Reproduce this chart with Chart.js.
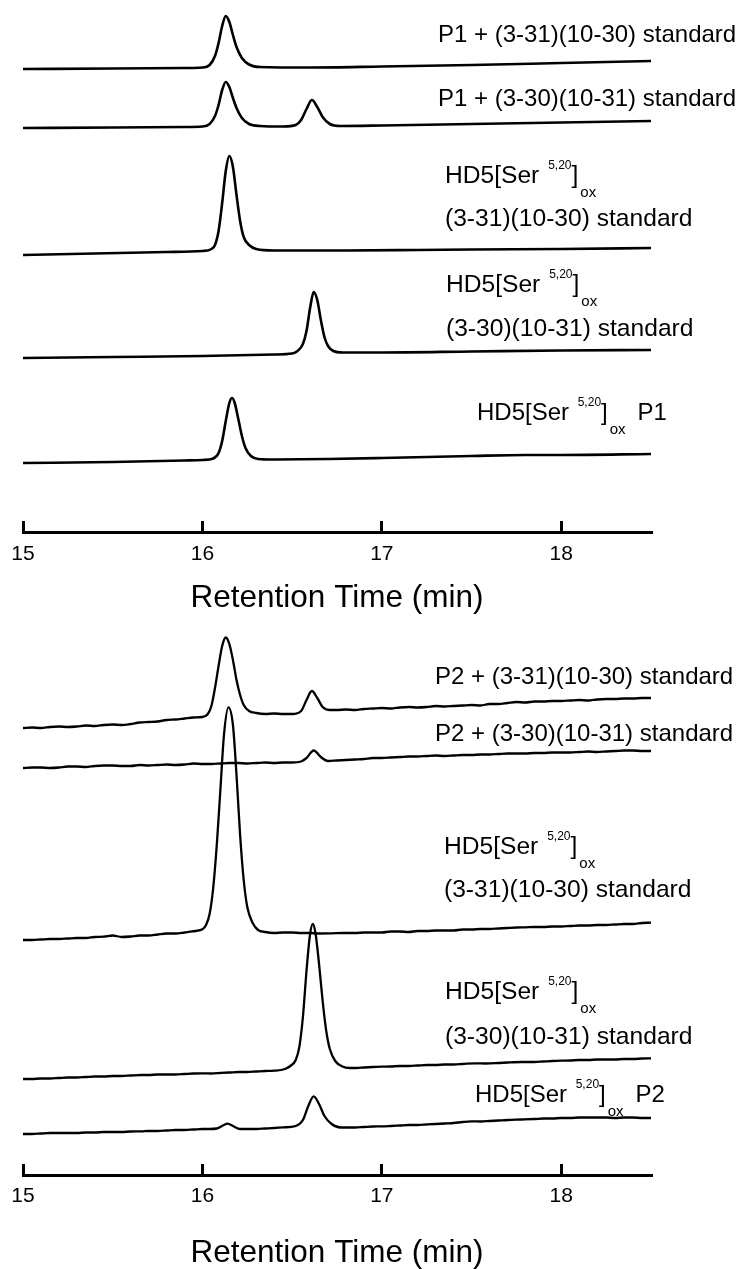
<!DOCTYPE html>
<html>
<head>
<meta charset="utf-8">
<script src="https://cdn.jsdelivr.net/npm/chart.js@4.4.1/dist/chart.umd.min.js"></script>
<style>
html, body { margin: 0; padding: 0; background: #fff; }
#wrap { position: relative; width: 739px; height: 1269px; }
.panel { position: absolute; left: 0; width: 739px; }
#top { top: 0; height: 620px; }
#bottom { top: 620px; height: 649px; }
</style>
</head>
<body>
<div id="wrap">
  <div class="panel" id="top"><canvas id="chartTop"></canvas></div>
  <div class="panel" id="bottom"><canvas id="chartBottom"></canvas></div>
</div>
<script>
// retention time axis
var xMin = 15, xMax = 18.5;
var xTicks = [15, 16, 17, 18];

// --- upper panel (P1) : time (min) and signal above own baseline (a.u.)
var t_P1_std31 = [15.0, 15.5, 15.9, 16.0, 16.04, 16.07, 16.09, 16.11, 16.13, 16.15, 16.17, 16.19, 16.22, 16.26, 16.32, 16.6, 17.0, 17.5, 18.0, 18.5];
var s_P1_std31 = [0, 0.5, 1, 1.5, 4, 13, 26, 43, 53, 47, 34, 22, 11, 4.5, 2, 1.5, 2.5, 4, 6, 8];

var t_P1_std30 = [15.0, 15.5, 15.9, 16.0, 16.04, 16.07, 16.09, 16.11, 16.13, 16.15, 16.17, 16.19, 16.22, 16.26, 16.32, 16.45, 16.52, 16.55, 16.58, 16.61, 16.64, 16.67, 16.71, 16.77, 17.0, 17.5, 18.0, 18.5];
var s_P1_std30 = [0, 0.5, 1, 1.5, 4, 12, 23, 38, 46, 41, 30, 20, 10, 4, 2, 1.5, 3, 8, 19, 28, 21, 11, 4, 2, 2.5, 4, 5.5, 7];

var t_A_std31 = [15.0, 15.4, 15.8, 16.0, 16.05, 16.07, 16.09, 16.11, 16.13, 16.15, 16.17, 16.19, 16.21, 16.23, 16.26, 16.3, 16.4, 16.8, 17.2, 17.5, 18.0, 18.5];
var s_A_std31 = [0, 1.5, 3, 4, 6, 10, 24, 52, 84, 99, 88, 60, 34, 18, 10, 6, 4.5, 4.5, 5, 5.5, 6, 7];

var t_A_std30 = [15.0, 15.5, 16.0, 16.4, 16.5, 16.53, 16.56, 16.58, 16.60, 16.62, 16.64, 16.66, 16.68, 16.70, 16.73, 16.78, 17.0, 17.5, 18.0, 18.5];
var s_A_std30 = [0, 1, 2, 3.5, 4.5, 7, 14, 27, 50, 66, 58, 38, 21, 12, 7, 5.5, 5.5, 6.5, 7.5, 8];

var t_A_P1 = [15.0, 15.5, 15.9, 16.0, 16.06, 16.09, 16.11, 16.13, 16.15, 16.165, 16.18, 16.2, 16.22, 16.24, 16.27, 16.31, 16.4, 16.7, 17.0, 17.5, 17.8, 18.0, 18.5];
var s_A_P1 = [0, 1, 2.5, 3, 4.5, 10, 22, 42, 60, 65, 60, 44, 27, 15, 7, 4, 3.5, 4, 5, 7, 8, 8, 9];

// --- lower panel (P2), noisier baselines
var t_P2_std31 = [15.0, 15.05, 15.1, 15.15, 15.2, 15.25, 15.3, 15.35, 15.4, 15.45, 15.5, 15.55, 15.6, 15.65, 15.7, 15.75, 15.8, 15.85, 15.9, 15.95, 16.0, 16.03, 16.05, 16.07, 16.09, 16.11, 16.13, 16.15, 16.17, 16.19, 16.21, 16.23, 16.26, 16.3, 16.35, 16.4, 16.45, 16.5, 16.55, 16.58, 16.61, 16.64, 16.67, 16.71, 16.75, 16.8, 16.85, 16.9, 16.95, 17.0, 17.05, 17.1, 17.15, 17.2, 17.25, 17.3, 17.35, 17.4, 17.45, 17.5, 17.55, 17.6, 17.65, 17.7, 17.75, 17.8, 17.85, 17.9, 17.95, 18.0, 18.05, 18.1, 18.15, 18.2, 18.25, 18.3, 18.35, 18.4, 18.45, 18.5];
var s_P2_std31 = [0, 0.5, 0, 1, 1.5, 1, 1.5, 2.5, 2, 3, 3.5, 3, 4, 5.5, 6, 6.5, 8, 8.5, 9.5, 10.5, 11, 14, 22, 40, 62, 82, 90.5, 84, 68, 48, 33, 23, 17, 15, 14, 14.5, 14, 14, 17, 28, 37, 30, 21, 18, 18, 18.5, 18, 19, 19.5, 20, 19.5, 20.5, 21, 20.5, 21, 22, 21.5, 22, 22.5, 23, 22.5, 24, 24, 25, 26, 25.5, 26.5, 26.5, 27, 27, 27.5, 28, 27.5, 28.5, 29, 29, 29.5, 29.5, 30, 30];

var t_P2_std30 = [15.0, 15.05, 15.1, 15.15, 15.2, 15.25, 15.3, 15.35, 15.4, 15.45, 15.5, 15.55, 15.6, 15.65, 15.7, 15.75, 15.8, 15.85, 15.9, 15.95, 16.0, 16.05, 16.1, 16.15, 16.2, 16.25, 16.3, 16.35, 16.4, 16.45, 16.5, 16.55, 16.58, 16.62, 16.66, 16.7, 16.75, 16.8, 16.85, 16.9, 16.95, 17.0, 17.05, 17.1, 17.15, 17.2, 17.25, 17.3, 17.35, 17.4, 17.45, 17.5, 17.55, 17.6, 17.65, 17.7, 17.75, 17.8, 17.85, 17.9, 17.95, 18.0, 18.05, 18.1, 18.15, 18.2, 18.25, 18.3, 18.35, 18.4, 18.45, 18.5];
var s_P2_std30 = [0, 0.5, 0.5, 0, 0.5, 1.5, 1.5, 1, 2, 2.5, 2.5, 2, 2, 3, 2.5, 3, 3.5, 3, 3.5, 4.5, 4, 4, 4.5, 5, 5, 4.5, 5, 5.5, 5, 5.5, 5.5, 6.5, 10, 17.5, 11, 7, 7.5, 8, 8.5, 9, 10, 10, 10.5, 11, 11.5, 11.5, 12, 12.5, 12, 12.5, 13, 13, 13.5, 13.5, 14, 14.5, 14.5, 14.5, 15, 15, 15.5, 15.5, 15.5, 16, 16.5, 16, 16.5, 17, 17.5, 17.5, 17, 17];

var t_B_std31 = [15.0, 15.05, 15.1, 15.15, 15.2, 15.25, 15.3, 15.35, 15.4, 15.45, 15.5, 15.55, 15.6, 15.65, 15.7, 15.75, 15.8, 15.85, 15.9, 15.93, 15.96, 16.0, 16.02, 16.04, 16.06, 16.08, 16.1, 16.12, 16.145, 16.17, 16.19, 16.21, 16.23, 16.25, 16.28, 16.31, 16.35, 16.4, 16.45, 16.5, 16.55, 16.6, 16.65, 16.72, 16.78, 16.85, 16.9, 16.95, 17.0, 17.05, 17.1, 17.15, 17.2, 17.25, 17.3, 17.35, 17.4, 17.45, 17.5, 17.55, 17.6, 17.65, 17.7, 17.75, 17.8, 17.85, 17.9, 17.95, 18.0, 18.05, 18.1, 18.15, 18.2, 18.25, 18.3, 18.35, 18.4, 18.45, 18.5];
var s_B_std31 = [0, 0, 0.5, 1, 1, 1.5, 2, 2, 3, 3.3, 4.5, 3, 3.5, 4.5, 4.5, 5.5, 6.5, 6.5, 7.5, 8.3, 9, 10.7, 15, 26, 52, 95, 150, 205, 232.7, 215, 165, 105, 60, 33, 17, 10, 8, 7, 7.5, 7.5, 7, 7, 6.5, 6.7, 7, 7, 7.5, 7.5, 7.5, 8.5, 8.5, 8, 9, 9, 9.5, 9.5, 9.5, 10.5, 10.5, 11, 11, 11.5, 12, 12.5, 12.7, 13, 13, 13.5, 13.5, 14, 14.5, 14.5, 15, 15, 15.5, 16, 16, 17, 17.3];

var t_B_std30 = [15.0, 15.05, 15.1, 15.15, 15.2, 15.25, 15.3, 15.35, 15.4, 15.45, 15.5, 15.55, 15.6, 15.66, 15.7, 15.75, 15.8, 15.85, 15.9, 15.95, 16.0, 16.05, 16.1, 16.15, 16.2, 16.25, 16.3, 16.35, 16.4, 16.46, 16.49, 16.52, 16.54, 16.56, 16.58, 16.60, 16.615, 16.63, 16.65, 16.67, 16.69, 16.71, 16.74, 16.78, 16.82, 16.86, 16.9, 16.95, 17.0, 17.05, 17.1, 17.15, 17.2, 17.25, 17.3, 17.35, 17.4, 17.45, 17.52, 17.58, 17.65, 17.7, 17.78, 17.85, 17.9, 17.95, 18.0, 18.05, 18.1, 18.15, 18.2, 18.25, 18.3, 18.35, 18.4, 18.45, 18.5];
var s_B_std30 = [0, 0, 0.5, 0.5, 1, 1.5, 1.5, 2, 2.5, 2.5, 3, 3, 3.5, 4, 4, 4.5, 4.5, 4.5, 5, 5.5, 5.7, 5.5, 6, 6.5, 7, 7, 7.5, 8, 8.3, 10, 13, 19, 32, 62, 108, 145, 155, 146, 115, 78, 48, 30, 18, 12.5, 11, 11, 11.5, 12, 12.3, 12.5, 13, 13, 13.5, 14, 14, 14.5, 14.5, 15, 15.7, 15.5, 16, 16.5, 17, 17, 17.5, 18, 18.3, 18.5, 19, 19, 19.5, 19.5, 19.5, 20, 20, 20.5, 20.7];

var t_B_P2 = [15.0, 15.05, 15.1, 15.15, 15.2, 15.25, 15.3, 15.35, 15.4, 15.45, 15.5, 15.55, 15.6, 15.66, 15.7, 15.75, 15.8, 15.85, 15.9, 15.95, 16.0, 16.04, 16.08, 16.12, 16.14, 16.17, 16.21, 16.25, 16.3, 16.35, 16.4, 16.45, 16.52, 16.56, 16.59, 16.62, 16.65, 16.68, 16.72, 16.77, 16.81, 16.85, 16.9, 16.95, 17.0, 17.05, 17.1, 17.15, 17.2, 17.25, 17.3, 17.35, 17.4, 17.45, 17.5, 17.55, 17.6, 17.65, 17.7, 17.78, 17.85, 17.9, 17.95, 18.0, 18.05, 18.1, 18.15, 18.2, 18.25, 18.3, 18.35, 18.4, 18.45, 18.5];
var s_B_P2 = [0, 0, 0.5, 1, 1, 1, 1, 1.5, 1.5, 2, 2, 2, 2.5, 2.6, 3, 3, 3.5, 4, 4, 4.5, 5, 5, 5.5, 9, 10.3, 8, 5, 5, 5, 5.5, 6, 6.6, 8, 14, 28, 37.6, 30, 18, 10, 6.5, 6.5, 6.5, 7, 7.5, 7.6, 8, 8.5, 9, 9, 9.5, 10, 10.5, 11, 12, 12.6, 12.5, 13, 13.5, 14, 14.5, 15, 15.5, 15.5, 16, 16, 16.5, 16.5, 16.5, 16.5, 16, 16.5, 16.5, 16, 16];

var FONT = '"Liberation Sans", Arial, Helvetica, sans-serif';

// stack offsets for each trace (a.u. above the time axis)
var topOffsets = [463, 404, 277, 174, 69];
var bottomOffsets = [447, 407, 235, 96, 41];

var hd5 = [['HD5[Ser '], ['5,20', 'sup', 2], [']'], ['ox', 'sub', 2]];

var topLabels = [
  { x: 438, y: 42, size: 24, runs: [['P1 + (3-31)(10-30) standard']] },
  { x: 438, y: 106, size: 24, runs: [['P1 + (3-30)(10-31) standard']] },
  { x: 445, y: 183, size: 24.6, runs: hd5 },
  { x: 445, y: 226, size: 24.6, runs: [['(3-31)(10-30) standard']] },
  { x: 446, y: 292, size: 24.6, runs: hd5 },
  { x: 446, y: 336, size: 24.6, runs: [['(3-30)(10-31) standard']] },
  { x: 477, y: 420, size: 24, runs: hd5.concat([['P1', 'n', 12]]) }
];
var bottomLabels = [
  { x: 435, y: 64, size: 24, runs: [['P2 + (3-31)(10-30) standard']] },
  { x: 435, y: 121, size: 24, runs: [['P2 + (3-30)(10-31) standard']] },
  { x: 444, y: 234, size: 24.6, runs: hd5 },
  { x: 444, y: 277, size: 24.6, runs: [['(3-31)(10-30) standard']] },
  { x: 445, y: 379, size: 24.6, runs: hd5 },
  { x: 445, y: 424, size: 24.6, runs: [['(3-30)(10-31) standard']] },
  { x: 475, y: 482, size: 24, runs: hd5.concat([['P2', 'n', 12]]) }
];

// draws the trace names (with super/subscripts) on top of the chart
var labelPlugin = {
  id: 'traceLabels',
  afterDraw: function (chart, args, opts) {
    var ctx = chart.ctx;
    ctx.save();
    ctx.fillStyle = '#000';
    ctx.textBaseline = 'alphabetic';
    ctx.textAlign = 'left';
    opts.items.forEach(function (item) {
      var x = item.x;
      item.runs.forEach(function (run) {
        var kind = run[1] || 'n';
        var size = item.size, dy = 0;
        if (kind === 'sup') { size = 12; dy = -14; }
        if (kind === 'sub') { size = 15; dy = 14; }
        x += run[2] || 0;
        ctx.font = size + 'px ' + FONT;
        ctx.fillText(run[0], x, item.y + dy);
        x += ctx.measureText(run[0]).width;
      });
    });
    ctx.restore();
  }
};

function makeChart(id, traces, offsets, labels, axisHeight, tickPad, titlePad, yMax, lw) {
  var datasets = traces.map(function (tr, i) {
    return {
      data: tr[0].map(function (t, k) { return { x: t, y: offsets[i] + tr[1][k] }; }),
      borderColor: '#000',
      borderWidth: lw,
      pointRadius: 0,
      fill: false,
      cubicInterpolationMode: 'monotone',
      borderJoinStyle: 'round',
      borderCapStyle: 'round'
    };
  });
  return new Chart(document.getElementById(id), {
    type: 'line',
    data: { datasets: datasets },
    options: {
      responsive: true,
      maintainAspectRatio: false,
      animation: false,
      events: [],
      layout: { padding: { left: 23, right: 88, top: 0, bottom: 0 } },
      plugins: {
        legend: { display: false },
        tooltip: { enabled: false },
        traceLabels: { items: labels }
      },
      scales: {
        x: {
          type: 'linear',
          min: xMin,
          max: xMax,
          afterBuildTicks: function (s) {
            s.ticks = xTicks.map(function (v) { return { value: v }; });
          },
          afterFit: function (s) {
            s.paddingLeft = 0;
            s.paddingRight = 0;
            s.height = axisHeight;
          },
          border: { display: true, color: '#000', width: 3 },
          grid: { display: true, drawOnChartArea: false, drawTicks: true, tickLength: -11, lineWidth: 3, color: '#000' },
          ticks: {
            color: '#000',
            padding: tickPad,
            maxRotation: 0,
            autoSkip: false,
            font: { family: FONT, size: 21 },
            callback: function (v) { return v; }
          },
          title: {
            display: true,
            text: 'Retention Time (min)',
            color: '#000',
            font: { family: FONT, size: 31.5, lineHeight: 1 },
            padding: { top: 0, bottom: titlePad }
          }
        },
        y: { type: 'linear', display: false, min: 0, max: yMax }
      }
    },
    plugins: [labelPlugin]
  });
}

makeChart('chartTop',
  [[t_P1_std31, s_P1_std31], [t_P1_std30, s_P1_std30], [t_A_std31, s_A_std31], [t_A_std30, s_A_std30], [t_A_P1, s_A_P1]],
  topOffsets, topLabels, 88, 21, 5.5, 532, 2.6);

makeChart('chartBottom',
  [[t_P2_std31, s_P2_std31], [t_P2_std30, s_P2_std30], [t_B_std31, s_B_std31], [t_B_std30, s_B_std30], [t_B_P2, s_B_P2]],
  bottomOffsets, bottomLabels, 94, 20, 0, 555, 2.3);
</script>
</body>
</html>
